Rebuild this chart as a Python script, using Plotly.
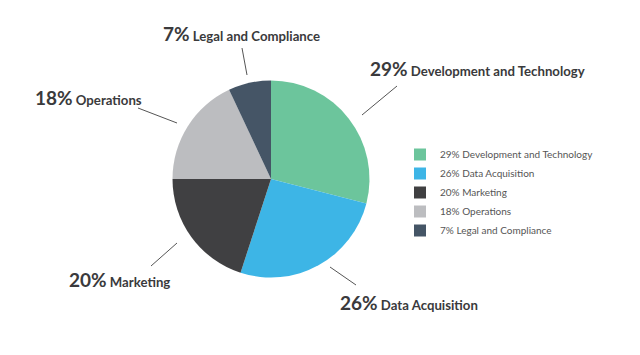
import plotly.graph_objects as go

categories = ["Development and Technology", "Data Acquisition", "Marketing", "Operations", "Legal and Compliance"]
percents = [29, 26, 20, 18, 7]
colors = ["#6CC59C", "#3DB5E6", "#404042", "#BCBDC0", "#455566"]

W, H = 640, 355
cx, cy, r = 271, 179, 98.5

legend_labels = [f"{p}% {c}" for p, c in zip(percents, categories)]

fig = go.Figure(go.Pie(
    labels=legend_labels,
    values=percents,
    marker=dict(colors=colors, line=dict(width=0)),
    sort=False,
    direction="clockwise",
    rotation=0,
    textinfo="none",
    hoverinfo="label",
    domain=dict(x=[(cx - r) / W, (cx + r) / W], y=[(H - cy - r) / H, (H - cy + r) / H]),
))

# callout label positions (pixel-based) and leader lines
label_pos = {
    "Development and Technology": (368, 69, "left"),
    "Data Acquisition": (338, 302, "left"),
    "Marketing": (172, 279, "right"),
    "Operations": (144, 97, "right"),
    "Legal and Compliance": (322, 34, "right"),
}
leader = {
    "Development and Technology": ((397, 86), (362, 115)),
    "Data Acquisition": ((330, 267), (356, 285)),
    "Marketing": ((177, 243), (151, 266)),
    "Operations": ((138, 108), (177, 123)),
    "Legal and Compliance": ((242, 48), (247, 75)),
}

anns = []
shapes = []
for p, c in zip(percents, categories):
    x, y, anchor = label_pos[c]
    anns.append(dict(
        x=x / W, y=1 - y / H, xref="paper", yref="paper",
        xanchor=anchor, yanchor="middle", showarrow=False,
        text=f"<b><span style='font-size:19px'>{p}%</span> {c}</b>",
        font=dict(family="Lato", size=13.2, color="#3a3a3c"),
    ))
    (x0, y0), (x1, y1) = leader[c]
    shapes.append(dict(type="line", xref="paper", yref="paper",
                       x0=x0 / W, y0=1 - y0 / H, x1=x1 / W, y1=1 - y1 / H,
                       line=dict(color="#555555", width=1)))

fig.update_layout(
    width=W, height=H,
    margin=dict(l=0, r=0, t=0, b=0),
    paper_bgcolor="white", plot_bgcolor="white",
    annotations=anns, shapes=shapes,
    showlegend=True,
    legend=dict(x=400 / W, y=1 - 140 / H, xanchor="left", yanchor="top",
                font=dict(family="Lato", size=10, color="#555555"),
                itemsizing="constant", tracegroupgap=0,
                bgcolor="rgba(0,0,0,0)"),
)

fig.write_html("out.html", config={"displayModeBar": False},
               post_script="document.body.style.margin='0';")
